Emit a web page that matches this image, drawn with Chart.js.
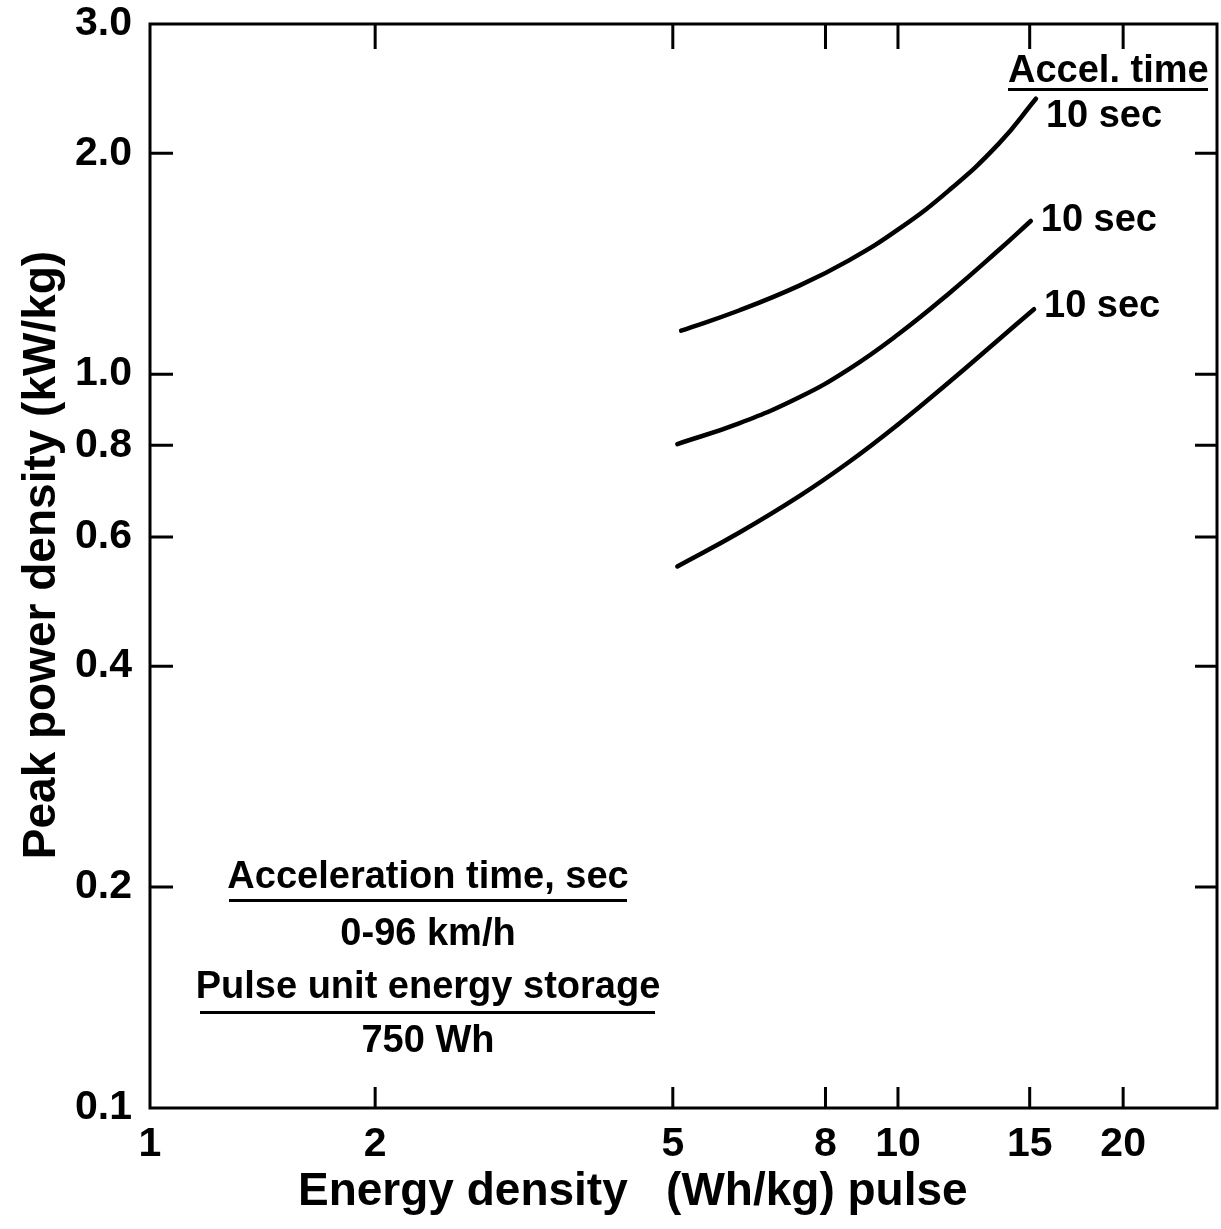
<!DOCTYPE html>
<html>
<head>
<meta charset="utf-8">
<script src="https://cdn.jsdelivr.net/npm/chart.js@4.4.1/dist/chart.umd.min.js"></script>
<style>
  html, body { margin: 0; padding: 0; background: #fff; }
  #wrap { width: 1221px; height: 1229px; position: relative; }
</style>
</head>
<body>
<div id="wrap"><canvas id="chart"></canvas></div>
<script>
// values (energy in Wh/kg, power in kW/kg)
const energyTop = [5.13, 6.13, 7.38, 8.60, 10.03, 11.70, 13.64, 15.29];
const powerTop  = [1.146, 1.221, 1.320, 1.429, 1.577, 1.780, 2.061, 2.373];

const energyMid = [5.07, 6.13, 7.38, 8.60, 10.03, 11.70, 13.64, 15.05];
const powerMid  = [0.803, 0.857, 0.930, 1.016, 1.135, 1.288, 1.476, 1.617];

const energyLow = [5.07, 6.13, 7.38, 8.60, 10.03, 11.70, 13.64, 15.20];
const powerLow  = [0.547, 0.608, 0.682, 0.759, 0.856, 0.975, 1.115, 1.226];

const curveLabels = ['10 sec', '10 sec', '10 sec'];

const xTickValues = [1, 2, 5, 8, 10, 15, 20];
const yTickValues = [0.1, 0.2, 0.4, 0.6, 0.8, 1.0, 2.0, 3.0];
const xMarks = [2, 5, 8, 10, 15, 20];
const yMarks = [0.2, 0.4, 0.6, 0.8, 1.0, 2.0];

const FONT = '"Liberation Sans", Arial, Helvetica, sans-serif';

function toPoints(xs, ys) {
    return xs.map((x, i) => ({ x: x, y: ys[i] }));
}

function curve(xs, ys) {
    return {
        data: toPoints(xs, ys),
        borderColor: '#000',
        borderWidth: 4.5,
        borderCapStyle: 'round',
        pointRadius: 0,
        fill: false,
        tension: 0.45
    };
}

// box, inward ticks and all the loose text
const framePlugin = {
    id: 'frame',
    afterDraw(chart) {
        const ctx = chart.ctx;
        const a = chart.chartArea;
        const xs = chart.scales.x;
        const ys = chart.scales.y;
        ctx.save();
        ctx.strokeStyle = '#000';
        ctx.lineWidth = 3;
        ctx.strokeRect(a.left, a.top, a.right - a.left, a.bottom - a.top);

        ctx.beginPath();
        xMarks.forEach(v => {
            const px = xs.getPixelForValue(v);
            ctx.moveTo(px, a.bottom);
            ctx.lineTo(px, a.bottom - 21);
            ctx.moveTo(px, a.top);
            ctx.lineTo(px, a.top + 25);
        });
        yMarks.forEach(v => {
            const py = ys.getPixelForValue(v);
            ctx.moveTo(a.left, py);
            ctx.lineTo(a.left + 23, py);
            ctx.moveTo(a.right, py);
            ctx.lineTo(a.right - 22, py);
        });
        ctx.stroke();

        ctx.fillStyle = '#000';

        // axis titles
        ctx.font = 'bold 46px ' + FONT;
        ctx.textAlign = 'left';
        ctx.textBaseline = 'alphabetic';
        ctx.fillText('Energy density   (Wh/kg) pulse', 298, 1205);

        ctx.save();
        ctx.translate(55, 555);
        ctx.rotate(-Math.PI / 2);
        ctx.textAlign = 'center';
        ctx.fillText('Peak power density (kW/kg)', 0, 0);
        ctx.restore();

        // curve labels
        ctx.font = 'bold 38px ' + FONT;
        ctx.textAlign = 'left';
        const ends = [
            [energyTop, powerTop, 28],
            [energyMid, powerMid, 10],
            [energyLow, powerLow, 8]
        ];
        ends.forEach((e, i) => {
            const px = xs.getPixelForValue(e[0][e[0].length - 1]);
            const py = ys.getPixelForValue(e[1][e[1].length - 1]);
            ctx.fillText(curveLabels[i], px + 10, py + e[2]);
        });

        ctx.fillText('Accel. time', 1008, 82);
        ctx.fillRect(1008, 88, 200, 3);

        // lower-left note
        ctx.textAlign = 'center';
        const cx = 428;
        ctx.fillText('Acceleration time, sec', cx, 888);
        ctx.fillRect(229, 899, 398, 3);
        ctx.fillText('0-96 km/h', cx, 945);
        ctx.fillText('Pulse unit energy storage', cx, 998);
        ctx.fillRect(200, 1011, 455, 3);
        ctx.fillText('750 Wh', cx, 1052);

        ctx.restore();
    }
};

new Chart(document.getElementById('chart'), {
    type: 'line',
    data: {
        datasets: [
            curve(energyTop, powerTop),
            curve(energyMid, powerMid),
            curve(energyLow, powerLow)
        ]
    },
    options: {
        responsive: true,
        maintainAspectRatio: false,
        animation: false,
        layout: { padding: { top: 24, right: 4, left: 0, bottom: 0 } },
        plugins: {
            legend: { display: false },
            tooltip: { enabled: false }
        },
        scales: {
            x: {
                type: 'logarithmic',
                position: 'bottom',
                min: 1,
                max: 26.7,
                grid: { display: false, drawTicks: false },
                border: { display: false },
                afterBuildTicks: scale => {
                    scale.ticks = xTickValues.map(v => ({ value: v }));
                },
                afterFit: scale => {
                    scale.height = 121;
                    scale.paddingLeft = 0;
                    scale.paddingRight = 0;
                },
                ticks: {
                    autoSkip: false,
                    maxRotation: 0,
                    padding: 12,
                    color: '#000',
                    font: { family: FONT, size: 41, weight: 'bold' },
                    callback: v => String(v)
                }
            },
            y: {
                type: 'logarithmic',
                position: 'left',
                min: 0.1,
                max: 3.0,
                grid: { display: false, drawTicks: false },
                border: { display: false },
                afterBuildTicks: scale => {
                    scale.ticks = yTickValues.map(v => ({ value: v }));
                },
                afterFit: scale => {
                    scale.width = 150;
                    scale.paddingTop = 0;
                    scale.paddingBottom = 0;
                },
                ticks: {
                    autoSkip: false,
                    padding: 18,
                    color: '#000',
                    font: { family: FONT, size: 41, weight: 'bold' },
                    callback: v => Number(v).toFixed(1)
                }
            }
        }
    },
    plugins: [framePlugin]
});
</script>
</body>
</html>
